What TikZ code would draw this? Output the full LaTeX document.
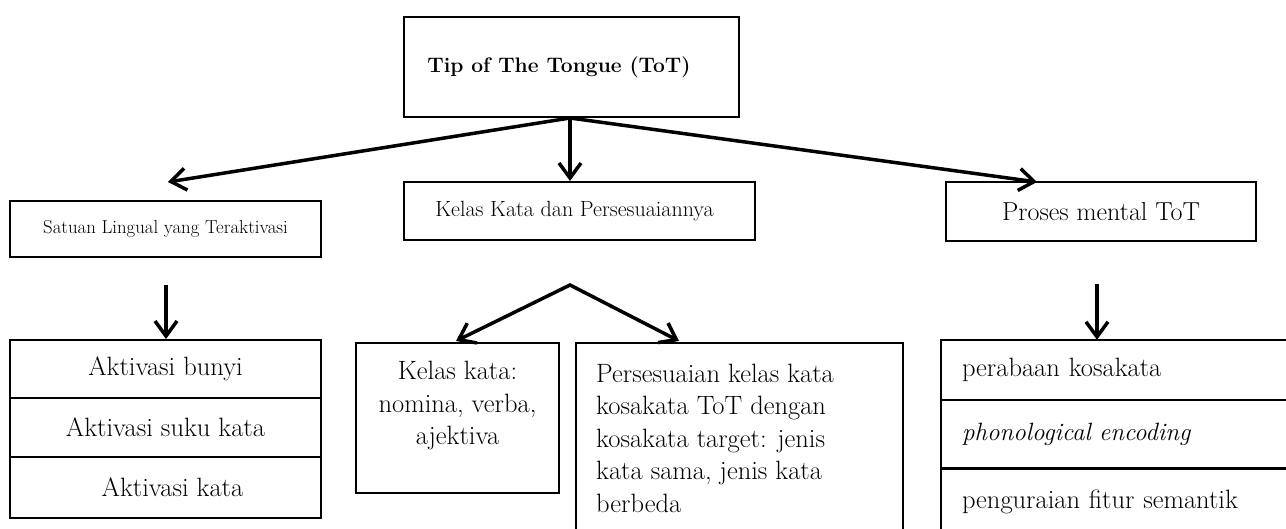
\documentclass[tikz,border=0pt]{standalone}
\usetikzlibrary{arrows.meta}
\begin{document}
\begin{tikzpicture}[x=1pt,y=-1pt,
  box/.style={draw,line width=2pt,inner sep=0pt,align=center},
  txt/.style={inner sep=0pt},
  big/.style={font=\fontsize{26.5}{32.5}\selectfont},
  arr/.style={line width=3.5pt,-{Straight Barb[length=15pt,width=22pt]}},
  arrtwo/.style={line width=3.5pt,line join=miter,{Straight Barb[length=15pt,width=22pt]}-{Straight Barb[length=15pt,width=22pt]}},
  rowline/.style={line width=2pt}
]
\useasboundingbox (0,0) rectangle (1286,529);

% level 1
\node[box,minimum width=335pt,minimum height=100pt,font=\fontsize{21}{26}\selectfont\bfseries] (top) at (571.5,67) {\hspace*{-25pt}Tip of The Tongue (ToT)};

% level 2
\node[box,minimum width=311pt,minimum height=56pt,font=\fontsize{18.8}{23}\selectfont] (satuan) at (165.5,229) {Satuan Lingual yang Teraktivasi};
\node[box,minimum width=351pt,minimum height=58pt,font=\fontsize{22}{26}\selectfont] (kelas) at (579.5,211) {\hspace*{-10pt}Kelas Kata dan Persesuaiannya};
\node[box,minimum width=310pt,minimum height=59pt,font=\fontsize{26}{31}\selectfont] (proses) at (1101,211.5) {Proses mental ToT};

\coordinate (o) at (570,118);
\coordinate (tl) at (168,182);
\coordinate (tm) at (570,181);
\coordinate (tr) at (1037,182);
\draw[arr] (o) -- (tl);
\draw[arr] (o) -- (tm);
\draw[arr] (o) -- (tr);

% left stack
\node[box,big,minimum width=311pt,minimum height=58pt] (a1) at (165.5,369) {Aktivasi bunyi};
\node[box,big,minimum width=311pt,minimum height=59pt] (a2) at (165.5,427.5) {Aktivasi suku kata};
\node[box,big,minimum width=311pt,minimum height=61pt] (a3) at (165.5,487.5) {\hspace*{14pt}Aktivasi kata};
\coordinate (la) at (166,285);
\draw[arr] (la) -- (a1.north -| la);

% middle
\node[box,minimum width=203pt,minimum height=150pt] (kk) at (457.5,418) {};
\node[txt,big,align=center] (kkt) at (457.5,405.5) {Kelas kata:\\nomina, verba,\\ajektiva};
\node[txt,minimum width=327pt,minimum height=190pt] (pers) at (739.5,438) {};
\draw[rowline] (pers.south west) -- (pers.north west) -- (pers.north east) -- (pers.south east);
\node[txt,big,align=left,anchor=west] (perst) at (596,438) {Persesuaian kelas kata\\kosakata ToT dengan\\kosakata target: jenis\\kata sama, jenis kata\\berbeda};
\coordinate (apex) at (570,285);
\coordinate (kl) at (456,341);
\coordinate (kr) at (679,341);
\draw[arrtwo] (kl) -- (apex) -- (kr);

% right stack
\node[txt,big,text width=318pt,inner xsep=21pt,align=left,minimum height=60pt] (r1) at (1121,370) {perabaan kosakata};
\node[txt,text width=318pt,inner xsep=21pt,align=left,minimum height=68pt,font=\fontsize{25}{30}\selectfont\itshape] (r2) at (1121,434) {phonological encoding};
\node[txt,big,text width=318pt,inner xsep=21pt,align=left,minimum height=68pt] (r3) at (1121,502) {penguraian fitur semantik};
\draw[rowline] (r1.north east) -- (r1.north west) -- (r3.south west);
\draw[rowline] (r1.south west) -- (r1.south east);
\draw[line width=3pt] (r2.south west) -- (r2.south east);
\coordinate (ra) at (1097,284);
\draw[arr] (ra) -- (r1.north -| ra);
\end{tikzpicture}
\end{document}
